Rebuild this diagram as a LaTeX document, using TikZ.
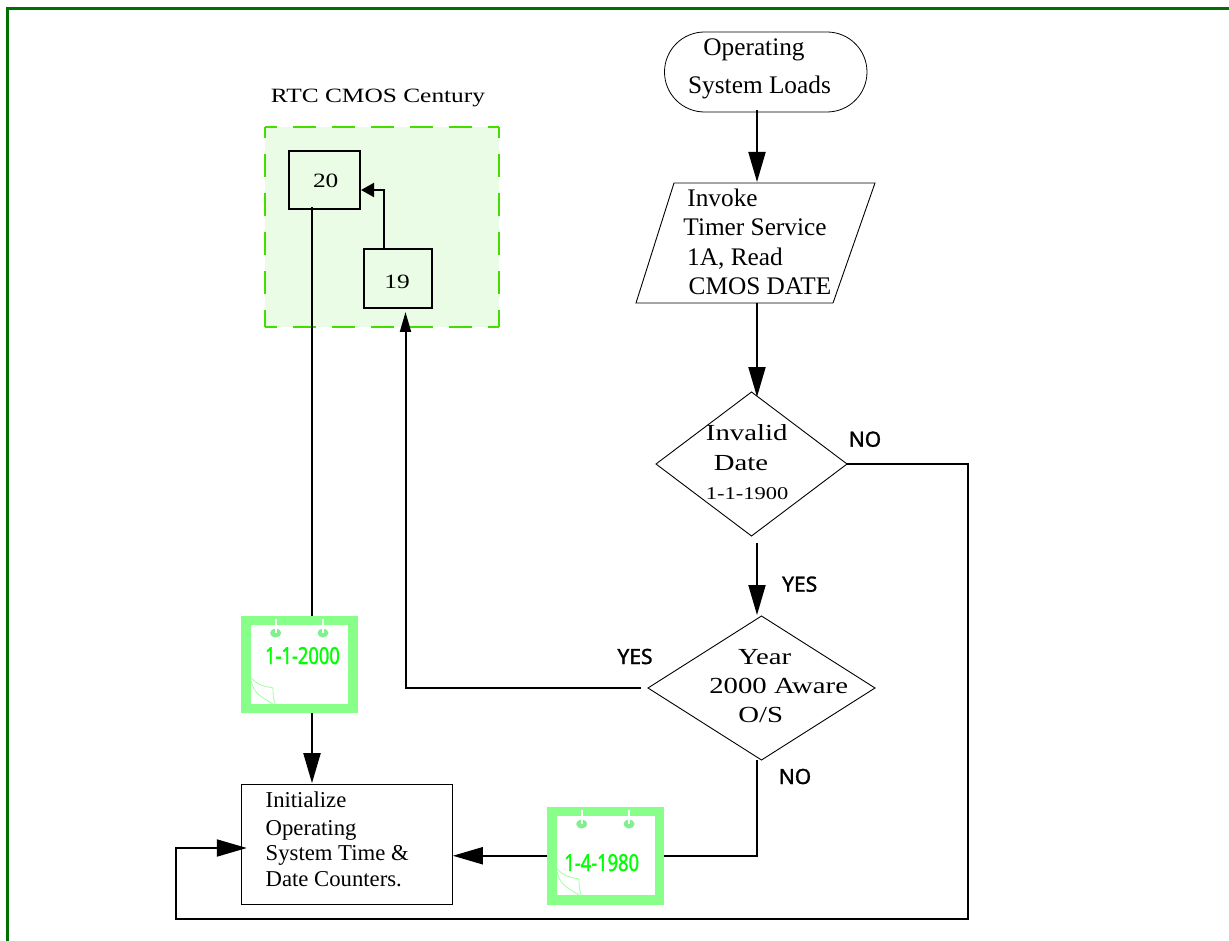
\documentclass[tikz,border=0pt]{standalone}
\usepackage{fontspec}
\setmainfont{Liberation Serif}
\newfontfamily\wideserif[FakeStretch=1.25]{Liberation Serif}
\newfontfamily\labelsans[FakeBold=1.4]{Noto Sans}
\newfontfamily\datesans[FakeStretch=0.78,FakeBold=1.2]{Noto Sans}
\usetikzlibrary{arrows.meta,shapes.geometric,shapes.misc,calc}
\definecolor{framegreen}{HTML}{007000}
\definecolor{calgreen}{HTML}{88FF88}
\definecolor{ringgreen}{HTML}{7FEF8F}
\definecolor{curlgreen}{HTML}{A0FFA0}
\definecolor{areafill}{HTML}{EBFCE6}
\definecolor{areadash}{HTML}{44DD00}
\tikzset{
  thinbox/.style={draw=black,line width=0.9pt,fill=white,inner sep=0pt,outer sep=0pt},
  numbox/.style={draw=black,line width=1.8pt,inner sep=0pt,outer sep=0pt},
  flow/.style={draw=black,line width=2pt},
  bighead/.style={-{Triangle[length=30pt,width=17pt]}},
  smallhead/.style={-{Triangle[length=20pt,width=11pt]}},
  tinyhead/.style={-{Triangle[length=13pt,width=14pt]}},
  big/.style={anchor=base,inner sep=0pt,font=\fontsize{25.3}{25}\selectfont},
  mid/.style={anchor=base west,inner sep=0pt,font=\fontsize{22.7}{25}\selectfont},
  wide/.style={anchor=base,inner sep=0pt,font=\fontsize{23}{25}\selectfont\wideserif},
  widesmall/.style={anchor=base,inner sep=0pt,font=\fontsize{18}{20}\selectfont\wideserif},
  widenum/.style={anchor=base,inner sep=0pt,font=\fontsize{20.3}{22}\selectfont\wideserif},
  answer/.style={anchor=base,inner sep=0pt,font=\fontsize{21}{24}\selectfont\labelsans},
  datetext/.style={anchor=base,inner sep=0pt,text=green,font=\fontsize{23.5}{25}\selectfont\datesans},
  calframe/.style={draw=calgreen,line width=9.5pt,fill=white,inner sep=0pt,outer sep=4.75pt},
  areadashes/.style={draw=areadash,line width=2pt,dash pattern=on 23pt off 16pt,dash phase=11.5pt},
  pics/calmarks/.style={code={
    \fill[ringgreen] (24.7,8) ellipse (5.5pt and 4.5pt);
    \fill[ringgreen] (72,8) ellipse (5.5pt and 4.5pt);
    \draw[white,line width=1.7pt] (24.7,-6) -- (24.7,8);
    \draw[white,line width=1.7pt] (72,-6) -- (72,8);
    \draw[curlgreen,line width=0.8pt] (0,53) .. controls (8,60) .. (22,63) .. controls (22,70) .. (24,79);
    \draw[curlgreen,line width=0.8pt] (0,56) .. controls (4,68) .. (22,79);
  }}
}
\begin{document}
\begin{tikzpicture}[x=1pt,y=-1pt]
\useasboundingbox (0,0) rectangle (1229,941);
% page frame
\coordinate (frameTL) at (7.5,8.5);
\coordinate (frameTR) at (1229,8.5);
\coordinate (frameBL) at (7.5,941);
\draw[framegreen,line width=3pt] (frameBL) -- (frameTL) -- (frameTR);

% RTC area
\node[fill=areafill,inner sep=0pt,outer sep=0pt,minimum width=234pt,minimum height=200pt] (area) at (382,227) {};
\draw[areadashes] (area.north west) -- (area.north east);
\draw[areadashes] (area.south west) -- (area.south east);
\draw[areadashes] (area.north west) -- (area.south west);
\draw[areadashes] (area.north east) -- (area.south east);
\node[widenum] (rtc) at (378,103) {RTC CMOS Century};
\node[numbox,minimum width=71pt,minimum height=58pt] (b20) at (324.5,180) {};
\node[numbox,minimum width=68pt,minimum height=59pt] (b19) at (398,278.5) {};
\node[widenum] (t20) at (325.7,187.3) {20};
\node[widenum] (t19) at (397,289) {19};

% right column shapes
\node[draw=black,line width=0.8pt,rounded rectangle,inner sep=0pt,outer sep=0pt,minimum width=202.5pt,minimum height=80pt] (start) at (765.75,72) {};
\node[inner sep=0pt,outer sep=0pt,minimum width=239pt,minimum height=120pt] (invoke) at (755.5,243) {};
\draw[black,line width=0.9pt] ([xshift=38pt]invoke.north west) -- (invoke.north east) -- ([xshift=-42pt]invoke.south east) -- (invoke.south west) -- cycle;
\node[thinbox,diamond,minimum width=191pt,minimum height=144pt] (d1) at (751.5,464) {};
\node[thinbox,diamond,minimum width=227pt,minimum height=144pt] (d2) at (761.5,688) {};
\node[thinbox,minimum width=211pt,minimum height=120pt] (init) at (346.8,844.2) {};

% calendars
\node[calframe,minimum width=107pt,minimum height=88pt] (cal1) at (299.5,664.5) {};
\pic at (251,625) {calmarks};
\node[datetext] (t2000) at (302.5,664) {1-1-2000};
\node[calframe,minimum width=107.5pt,minimum height=88.5pt] (cal2) at (605.5,855.75) {};
\pic at (557,816) {calmarks};
\node[datetext] (t1980) at (601.7,871) {1-4-1980};

% connectors
\draw[flow,bighead] ([xshift=-8.75pt,yshift=2pt]start.south) -- ([xshift=1.5pt,yshift=1pt]invoke.north);
\draw[flow,bighead] ([xshift=1.5pt]invoke.south) -- ([xshift=5.5pt,yshift=-5pt]d1.north);
\draw[flow,bighead] ([xshift=5.5pt,yshift=-7pt]d1.south) -- ([xshift=-4.5pt,yshift=1pt]d2.north);
\draw[flow,smallhead] ([xshift=-7pt]d2.west) -| ([xshift=7.5pt,yshift=-4pt]b19.south);
\draw[flow,tinyhead] ([xshift=-14pt]b19.north) |- ([yshift=-10pt,xshift=1pt]b20.east);
\draw[flow] ([xshift=-12.5pt,yshift=2pt]b20.south) -- ([xshift=12.5pt]cal1.north);
\draw[flow,bighead] ([xshift=12.5pt]cal1.south) -- ([xshift=-34.8pt,yshift=1pt]init.north);
\draw[flow] ([xshift=-4.5pt]d2.south) |- (cal2.east);
\draw[flow,bighead] (cal2.west) -- ([xshift=0.5pt,yshift=-11.55pt]init.east);
\coordinate (loopA) at (968,919);
\coordinate (loopB) at (176,919);
\coordinate (loopC) at (176,848);
\draw[flow,bighead,line join=miter] (d1.east) -| (loopA) -- (loopB) -- (loopC) -- ([xshift=5.5pt,yshift=-3.8pt]init.west);

% text
\node[big] (a1) at (754,55.7) {Operating};
\node[big] (a2) at (759.5,94) {System Loads};
\node[big] (b1) at (722.5,206.7) {Invoke};
\node[big] (b2) at (755,236) {Timer Service};
\node[big] (b3) at (735,266) {1A, Read};
\node[big] (b4) at (760,295) {CMOS DATE};
\node[wide] (c1) at (746.7,440) {Invalid};
\node[wide] (c2) at (741,470) {Date};
\node[widesmall] (c3) at (747,499) {1-1-1900};
\node[wide] (e1) at (764.7,664) {Year};
\node[wide] (e2) at (778.7,693) {2000 Aware};
\node[wide] (e3) at (760.7,722.7) {O/S};
\node[mid] (f1) at (265.5,807.7) {Initialize};
\node[mid] (f2) at (265.5,835) {Operating};
\node[mid] (f3) at (265.5,860.7) {System Time \&};
\node[mid] (f4) at (265.5,886.7) {Date Counters.};
\node[answer] (n1) at (865,446.7) {NO};
\node[answer] (y1) at (799.7,591.7) {YES};
\node[answer] (y2) at (635,664) {YES};
\node[answer] (n2) at (795,784) {NO};
\end{tikzpicture}
\end{document}
